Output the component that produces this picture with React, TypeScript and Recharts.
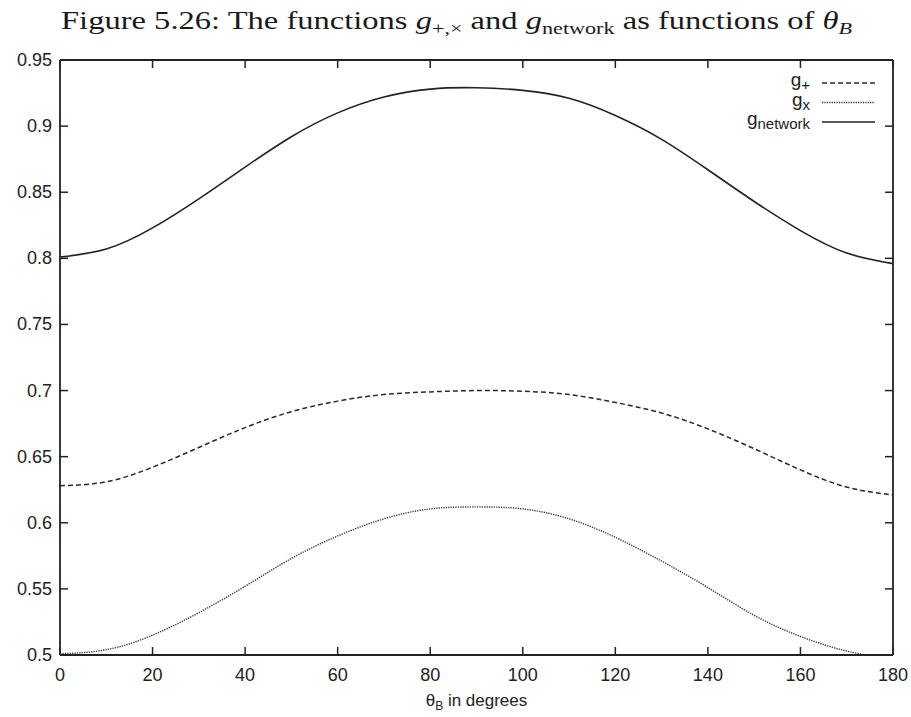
import { LineChart, Line, XAxis, YAxis, Legend } from 'recharts'

const THETA = [0, 10, 20, 30, 40, 50, 60, 70, 80, 90, 100, 110, 120, 130, 140, 150, 160, 170, 180]
const G_PLUS = [0.628, 0.631, 0.642, 0.657, 0.672, 0.684, 0.692, 0.697, 0.699, 0.7, 0.6995, 0.697, 0.691, 0.683, 0.671, 0.656, 0.64, 0.627, 0.621]
const G_CROSS = [0.501, 0.504, 0.515, 0.532, 0.552, 0.573, 0.59, 0.603, 0.6105, 0.612, 0.6105, 0.603, 0.589, 0.571, 0.551, 0.53, 0.514, 0.503, 0.4965]
const G_NETWORK = [0.801, 0.807, 0.823, 0.845, 0.869, 0.892, 0.91, 0.922, 0.928, 0.929, 0.927, 0.921, 0.908, 0.89, 0.867, 0.843, 0.821, 0.804, 0.796]

const X_TICKS = [0, 20, 40, 60, 80, 100, 120, 140, 160, 180]
const Y_TICKS = [0.5, 0.55, 0.6, 0.65, 0.7, 0.75, 0.8, 0.85, 0.9, 0.95]

const SERIES = [
  { key: 'gPlus', sub: '+', dash: '5 3', width: 1.5, color: '#2a2a2a' },
  { key: 'gCross', sub: 'x', dash: '1.3 1.1', width: 1.4, color: '#3a3a3a' },
  { key: 'gNetwork', sub: 'network', dash: undefined, width: 1.6, color: '#222' },
]

const data = THETA.map((t, i) => ({
  theta: t,
  gPlus: G_PLUS[i],
  gCross: G_CROSS[i],
  gNetwork: G_NETWORK[i],
}))

const INK = '#222'
const SANS = '"Liberation Sans", Arial, sans-serif'
const FRAME = { stroke: INK, strokeWidth: 1.8 }
const TICK_LINE = { stroke: INK, strokeWidth: 1.5 }

// negative tickSize turns the tick marks inward; labels stay outside the frame
function LeftLabel({ x, y, payload }: any) {
  return (
    <text x={x} y={y} dy={6} textAnchor="end" fontSize={18} fontFamily={SANS} fill={INK}>
      {payload.value}
    </text>
  )
}

function BottomLabel({ x, y, payload }: any) {
  return (
    <text x={x} y={y} dy={6} textAnchor="middle" fontSize={18} fontFamily={SANS} fill={INK}>
      {payload.value}
    </text>
  )
}

const NoLabel = () => <g />

function XTitle({ viewBox }: any) {
  const { x, y, width } = viewBox
  return (
    <text x={x + width / 2} y={y + 51} textAnchor="middle" fontSize={17} fontFamily={SANS} fill={INK}>
      θ<tspan fontSize={12} dy={4}>B</tspan>
      <tspan dy={-4}> in degrees</tspan>
    </text>
  )
}

function LegendBox() {
  return (
    <svg width={170} height={80} style={{ overflow: 'visible' }}>
      {SERIES.map((s, i) => {
        const cy = 21 + i * 19.5
        return (
          <g key={s.key}>
            <text x={80} y={cy + 3} textAnchor="end" fontSize={19} fontFamily={SANS} fill={INK}>
              g<tspan fontSize={15} dy={4}>{s.sub}</tspan>
            </text>
            <line x1={92} x2={145} y1={cy} y2={cy} stroke={s.color}
              strokeWidth={s.width} strokeDasharray={s.dash} />
          </g>
        )
      })}
    </svg>
  )
}

export default function App() {
  return (
    <div style={{ position: 'absolute', left: 0, top: 0, width: 911, height: 717, background: '#fff' }}>
      <svg width={911} height={50} style={{ position: 'absolute', left: 0, top: 0 }}>
        <text x={61} y={29} textLength={791} lengthAdjust="spacingAndGlyphs"
          fontFamily='"Liberation Serif", "Times New Roman", serif' fontSize={25} fill="#1a1a1a">
          Figure 5.26: The functions <tspan fontStyle="italic">g</tspan>
          <tspan fontSize={17} dy={5}>+,×</tspan>
          <tspan dy={-5}> and </tspan>
          <tspan fontStyle="italic">g</tspan>
          <tspan fontSize={17} dy={5}>network</tspan>
          <tspan dy={-5}> as functions of </tspan>
          <tspan fontStyle="italic">θ</tspan>
          <tspan fontSize={17} dy={5} fontStyle="italic">B</tspan>
        </text>
      </svg>

      {/* top and right axes only mirror the frame and its ticks */}
      <LineChart width={911} height={717} data={data}
        margin={{ top: 59, right: 17, left: 0, bottom: 0 }}>
        <XAxis xAxisId="x" dataKey="theta" type="number" domain={[0, 180]} ticks={X_TICKS}
          height={62} tickSize={-8} tickMargin={28} tickLine={TICK_LINE}
          axisLine={FRAME} tick={<BottomLabel />} label={<XTitle />} />
        <XAxis xAxisId="top" orientation="top" dataKey="theta" type="number" domain={[0, 180]}
          ticks={X_TICKS} height={1} tickSize={-8} tickMargin={0} tickLine={TICK_LINE}
          axisLine={FRAME} tick={<NoLabel />} />
        <YAxis yAxisId="y" type="number" domain={[0.5, 0.95]} ticks={Y_TICKS} allowDataOverflow
          width={60} tickSize={-8} tickMargin={16} tickLine={TICK_LINE}
          axisLine={FRAME} tick={<LeftLabel />} />
        <YAxis yAxisId="right" orientation="right" type="number" domain={[0.5, 0.95]}
          ticks={Y_TICKS} allowDataOverflow width={1} tickSize={-8} tickMargin={0}
          tickLine={TICK_LINE} axisLine={FRAME} tick={<NoLabel />} />

        <Legend layout="vertical" align="center" verticalAlign="middle" content={<LegendBox />}
          wrapperStyle={{ position: 'absolute', left: 730, top: 62, width: 170, height: 80 }} />

        {SERIES.map((s) => (
          <Line key={s.key} xAxisId="x" yAxisId="y" dataKey={s.key} type="natural"
            stroke={s.color} strokeWidth={s.width} strokeDasharray={s.dash}
            dot={false} activeDot={false} isAnimationActive={false} />
        ))}
      </LineChart>
    </div>
  )
}
